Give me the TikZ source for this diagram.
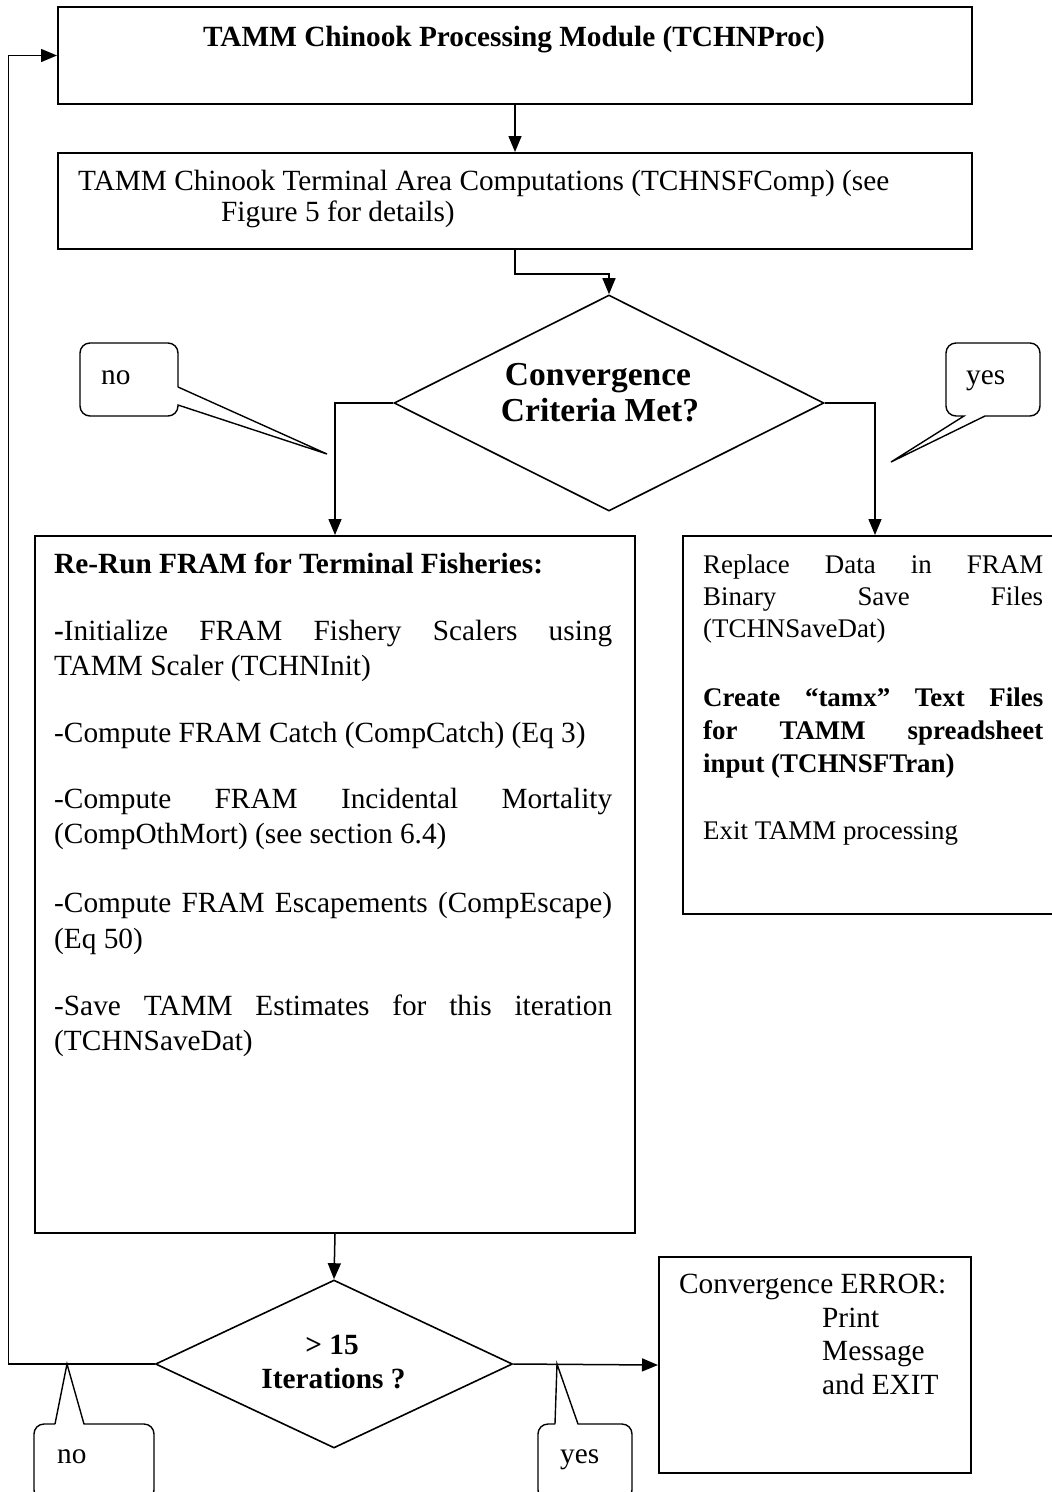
\documentclass[tikz,border=0pt]{standalone}
\usepackage{fontspec}
\setmainfont{Liberation Serif}
\usetikzlibrary{arrows.meta,shapes.geometric}
\newcommand\ftw{\fontsize{29.3}{35}\selectfont}
\newcommand\fel{\fontsize{26.9}{32}\selectfont}
\newcommand\fdia{\fontsize{33.5}{40}\selectfont}
\newcommand\jl[2]{\makebox[#1][s]{#2}}
\begin{document}
\begin{tikzpicture}[x=1pt,y=-1pt,
  box/.style={draw,line width=2pt,rectangle,inner sep=0pt,anchor=north west},
  dia/.style={draw,diamond,line width=1.6pt,inner sep=0pt},
  arr/.style={line width=1.5pt,-{Triangle[length=16pt,width=13pt]}},
  call/.style={draw,line width=1.4pt},
  txt/.style={inner sep=0pt,anchor=base west,font=\ftw},
  ctxt/.style={inner sep=0pt,anchor=base},
]
\useasboundingbox (0,0) rectangle (1052,1492);
\clip (0,0) rectangle (1052,1492);

% shapes
\node[box,minimum width=914pt,minimum height=97pt] (b1) at (57,6) {};
\node[box,minimum width=914pt,minimum height=96pt] (b2) at (57,152) {};
\node[dia,minimum width=430pt,minimum height=216pt] (d1) at (609,403) {};
\node[box,minimum width=600pt,minimum height=697pt] (b3) at (34,535) {};
\node[box,minimum width=370pt,minimum height=378pt] (b4) at (682,535) {};
\node[dia,minimum width=357pt,minimum height=168pt] (d2) at (334,1364) {};
\node[box,minimum width=312pt,minimum height=216pt] (err) at (658,1256) {};

% texts
\node[ctxt,font=\ftw\bfseries] (t1) at (514,46) {TAMM Chinook Processing Module (TCHNProc)};
\node[txt] (t2a) at (78,190) {TAMM Chinook Terminal Area Computations (TCHNSFComp) (see};
\node[txt] (t2b) at (221,221) {Figure 5 for details)};

\node[ctxt,font=\fdia\bfseries] (d1a) at (598,385) {Convergence};
\node[ctxt,font=\fdia\bfseries] (d1b) at (600,421) {Criteria Met?};

\node[txt,font=\ftw\bfseries] (r0) at (54,573) {Re-Run FRAM for Terminal Fisheries:};
\node[txt] (r1) at (54,640) {\jl{558pt}{\textbf{-}Initialize FRAM Fishery Scalers using}};
\node[txt] (r2) at (54,675) {TAMM Scaler (TCHNInit)};
\node[txt] (r3) at (54,742) {-Compute FRAM Catch (CompCatch) (Eq 3)};
\node[txt] (r4) at (54,808) {\jl{558pt}{-Compute FRAM Incidental Mortality}};
\node[txt] (r5) at (54,843) {(CompOthMort) (see section 6.4)};
\node[txt] (r6) at (54,912) {\jl{558pt}{-Compute FRAM Escapements (CompEscape)}};
\node[txt] (r7) at (54,948) {(Eq 50)};
\node[txt] (r8) at (54,1015) {\jl{558pt}{-Save TAMM Estimates for this iteration}};
\node[txt] (r9) at (54,1050) {(TCHNSaveDat)};

\node[txt,font=\fel] (s1) at (703,573) {\jl{340pt}{Replace Data in FRAM}};
\node[txt,font=\fel] (s2) at (703,605) {\jl{340pt}{Binary Save Files}};
\node[txt,font=\fel] (s3) at (703,637) {(TCHNSaveDat)};
\node[txt,font=\fel\bfseries] (s4) at (703,706) {\jl{340pt}{Create “tamx” Text Files}};
\node[txt,font=\fel\bfseries] (s5) at (703,739) {\jl{340pt}{for TAMM spreadsheet}};
\node[txt,font=\fel\bfseries] (s6) at (703,772) {input (TCHNSFTran)};
\node[txt,font=\fel] (s7) at (703,839) {Exit TAMM processing};

\node[txt] (e1) at (679,1293) {Convergence ERROR:};
\node[txt] (e2) at (822,1327) {Print};
\node[txt] (e3) at (822,1360) {Message};
\node[txt] (e4) at (822,1394) {and EXIT};

\node[ctxt,font=\ftw\bfseries] (d2a) at (332,1354) {> 15};
\node[ctxt,font=\ftw\bfseries] (d2b) at (333.5,1388) {Iterations ?};

\node[txt] (n1) at (101,384) {no};
\node[txt] (y1) at (966,384) {yes};
\node[txt] (n2) at (57,1463) {no};
\node[txt] (y2) at (560,1463) {yes};

% connectors
\draw[arr] (b1.south) -- (b2.north);
\draw[arr] (b2.south) -- ++(0,24) -| (d1.north);
\draw[arr] (d1.west) -| (b3.north);
\draw[arr] (d1.east) -| ([xshift=7pt]b4.north);
\draw[arr] (b3.south) -- (d2.north);
\draw[arr] (d2.east) -- (err.west);
\draw[arr] (d2.west) -- ++(-146,0) |- (b1.west);

% callouts
\draw[call] (178,387) -- (327,454) -- (178,405) [rounded corners=10pt] -- (178,416) -- (80,416) -- (80,343) -- (178,343) -- (178,387);
\draw[call] (985,416) -- (891,462) -- (964,416) [rounded corners=10pt] -- (946,416) -- (946,343) -- (1040,343) -- (1040,416) -- (985,416);
\draw[call] (55,1424) -- (67,1364) -- (84,1424) [rounded corners=10pt] -- (154,1424) -- (154,1500) -- (34,1500) -- (34,1424) -- (55,1424);
\draw[call] (555,1424) -- (557,1364) -- (578,1424) [rounded corners=10pt] -- (632,1424) -- (632,1500) -- (538,1500) -- (538,1424) -- (555,1424);
\end{tikzpicture}
\end{document}
